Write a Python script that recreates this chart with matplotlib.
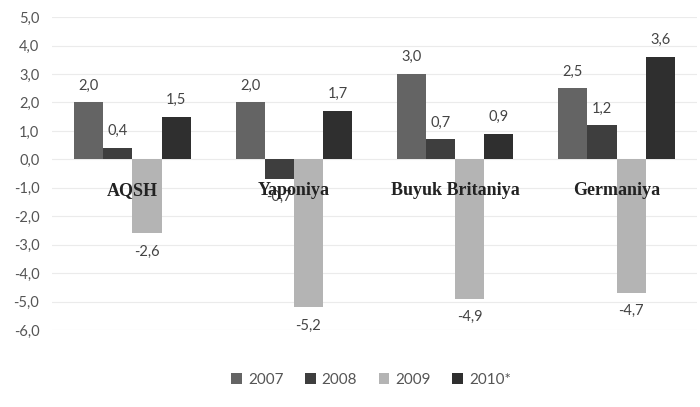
import numpy as np
import matplotlib.pyplot as plt

countries = ["AQSH", "Yaponiya", "Buyuk Britaniya", "Germaniya"]
years = ["2007", "2008", "2009", "2010*"]
v2007 = [2.0, 2.0, 3.0, 2.5]
v2008 = [0.4, -0.7, 0.7, 1.2]
v2009 = [-2.6, -5.2, -4.9, -4.7]
v2010 = [1.5, 1.7, 0.9, 3.6]
yticks = np.arange(-6, 6, 1)

series = [v2007, v2008, v2009, v2010]
colors = ["#646464", "#3e3e3e", "#b4b4b4", "#2f2f2f"]

fig = plt.figure(figsize=(7, 4.07), dpi=100)
ax = fig.add_axes([0.074, 0.189, 0.922, 0.769])

x = np.arange(len(countries))
w = 0.18
for i, (vals, c, lab) in enumerate(zip(series, colors, years)):
    pos = x + (i - 1.5) * w
    ax.bar(pos, vals, w, color=c, label=lab, zorder=2)
    for xp, v in zip(pos, vals):
        off = 7 if v >= 0 else -8
        ax.annotate(f"{v:.1f}".replace(".", ","), (xp, v), xytext=(0, off),
                    textcoords="offset points", ha="center",
                    va="bottom" if v >= 0 else "top",
                    fontsize=10.5, color="#444444", family="Lato", zorder=3)

for xc, name in zip(x, countries):
    ax.text(xc, -1.1, name, ha="center", va="center", fontsize=13,
            fontweight="bold", family="Liberation Serif", color="#222222", zorder=4)

ax.set_xlim(-0.5, 3.5)
ax.set_ylim(-6, 5)
ax.set_yticks(yticks)
ax.set_yticklabels([f"{t:.1f}".replace(".", ",") for t in yticks],
                   fontsize=10.5, color="#555555", family="Lato")
ax.set_xticks([])
ax.tick_params(axis="y", length=0, pad=9)
ax.grid(axis="y", color="#ebebeb", linewidth=0.8, zorder=0)
for s in ax.spines.values():
    s.set_visible(False)

fig.legend(loc="center", bbox_to_anchor=(0.53, 0.066), ncol=4, frameon=False,
           handlelength=0.7, handleheight=0.7, handletextpad=0.4, columnspacing=1.4,
           prop={"family": "Lato", "size": 11}, labelcolor="#555555")

plt.savefig("out.png")
